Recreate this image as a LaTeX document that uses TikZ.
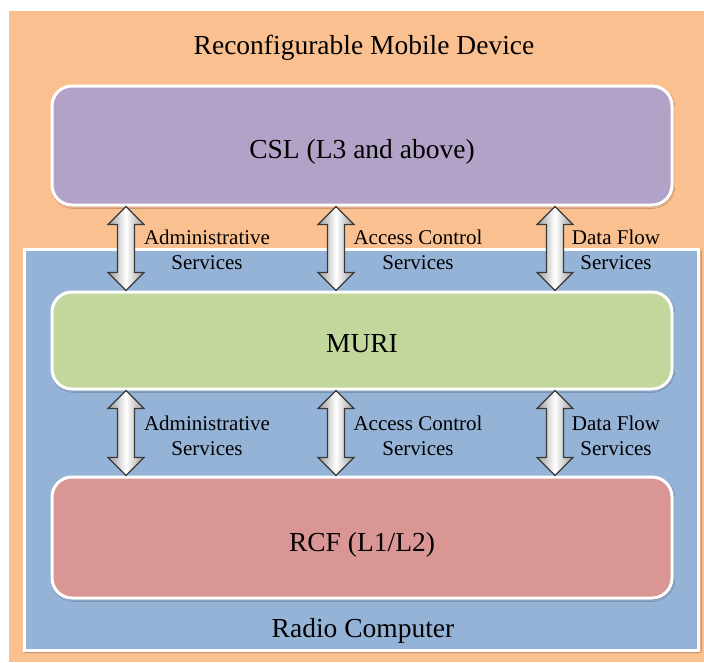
\documentclass[tikz,border=0pt]{standalone}
\usepackage{fontspec}
\setmainfont{Liberation Serif}
\usetikzlibrary{calc,shadows.blur}
\definecolor{devbg}{HTML}{FAC090}
\definecolor{rcbg}{HTML}{95B3D7}
\definecolor{cslcol}{HTML}{B3A2C7}
\definecolor{muricol}{HTML}{C3D69B}
\definecolor{rcfcol}{HTML}{D99694}
\definecolor{arrowline}{HTML}{3A3A3A}
\definecolor{arrowgray}{HTML}{9A9A9A}
\tikzset{
  bigtext/.style={font=\fontsize{27.5}{30}\selectfont, inner sep=0pt},
  svctext/.style={font=\fontsize{21}{25}\selectfont, align=center, inner sep=0pt},
  layerbox/.style={draw=white, line width=3pt, rounded corners=20pt, inner sep=0pt,
    minimum width=620pt,
    blur shadow={shadow blur steps=6, shadow xshift=1pt, shadow yshift=-1.5pt, shadow opacity=35}},
  svcarrowsty/.style={draw=arrowline, line width=1.1pt, line join=miter,
    left color=arrowgray, right color=arrowgray, middle color=white}
}
\newcommand{\svcarrow}[3]{%
  \path (#2.south -| #1) coordinate (ta) (#3.north -| #1) coordinate (tb);
  \shadedraw[svcarrowsty] (ta) -- ($(ta)+(18,18)$) -- ($(ta)+(8.5,18)$)
    -- ($(tb)+(8.5,-18)$) -- ($(tb)+(18,-18)$) -- (tb)
    -- ($(tb)+(-18,-18)$) -- ($(tb)+(-8.5,-18)$)
    -- ($(ta)+(-8.5,18)$) -- ($(ta)+(-18,18)$) -- cycle;
}
\begin{document}
\begin{tikzpicture}[x=1pt,y=-1pt]
  \useasboundingbox (0,0) rectangle (704,662);
  \fill[white] (0,0) rectangle (704,662);
  % outer device
  \fill[devbg] (9,11) rectangle (704,662);
  \node[bigtext] (title) at (364,48) {Reconfigurable Mobile Device};
  % radio computer
  \draw[draw=white, line width=3pt, fill=rcbg,
    blur shadow={shadow blur steps=6, shadow xshift=1pt, shadow yshift=-1.5pt, shadow opacity=35}]
    (24.5,249.5) rectangle (698.5,650.5);
  \node[bigtext] (rctitle) at (363,631) {Radio Computer};
  % layers
  \node[layerbox, fill=cslcol, minimum height=119pt] (csl) at (362,145.5) {};
  \node[bigtext] (csllabel) at ($(csl.center)+(0,6)$) {CSL (L3 and above)};
  \node[layerbox, fill=muricol, minimum height=97pt] (muri) at (362,340.5) {};
  \node[bigtext] (murilabel) at ($(muri.center)+(0,3)$) {MURI};
  \node[layerbox, fill=rcfcol, minimum height=121pt] (rcf) at (362,537.5) {};
  \node[bigtext] (rcflabel) at ($(rcf.center)+(0,7)$) {RCF (L1/L2)};
  % arrow columns
  \coordinate (c1) at (126,0);
  \coordinate (c2) at (336,0);
  \coordinate (c3) at (555,0);
  \svcarrow{c1}{csl}{muri}
  \svcarrow{c2}{csl}{muri}
  \svcarrow{c3}{csl}{muri}
  \svcarrow{c1}{muri}{rcf}
  \svcarrow{c2}{muri}{rcf}
  \svcarrow{c3}{muri}{rcf}
  % labels
  \node[svctext] (a1) at (207,250) {Administrative\\Services};
  \node[svctext] (a2) at (418,250) {Access Control\\Services};
  \node[svctext] (a3) at (616,250) {Data Flow\\Services};
  \node[svctext] (b1) at (207,436) {Administrative\\Services};
  \node[svctext] (b2) at (418,436) {Access Control\\Services};
  \node[svctext] (b3) at (616,436) {Data Flow\\Services};
\end{tikzpicture}
\end{document}
